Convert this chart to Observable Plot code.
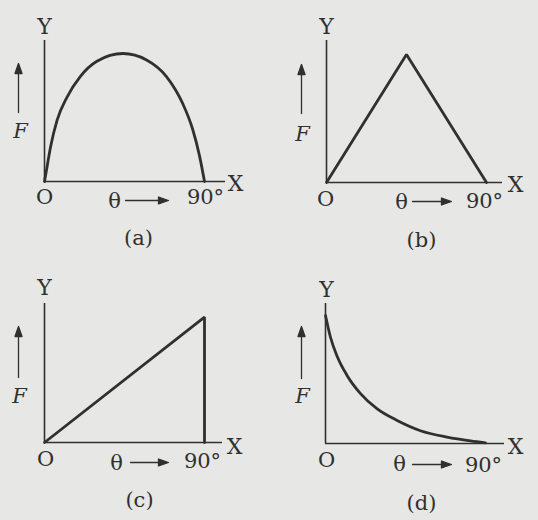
<!DOCTYPE html>
<html><head><meta charset="utf-8">
<script src="https://cdn.jsdelivr.net/npm/d3@7"></script>
<script src="https://cdn.jsdelivr.net/npm/@observablehq/plot@0.6"></script>
<style>
html,body{margin:0;padding:0;background:#e7e7e5;}
#grid{display:grid;grid-template-columns:269px 269px;grid-template-rows:260px 260px;width:538px;height:520px;}
#grid svg{display:block;}
</style></head><body><div id="grid"></div>
<script>
// Data: angle θ (degrees) vs relative force F
const thetaA = [0, 1.5, 3.4, 7.1, 12.7, 20.1, 29.5, 44.2, 57.4, 68.6, 77.7, 83.3, 87.2, 90];
const forceA = [0, 0.12, 0.27, 0.48, 0.66, 0.82, 0.94, 1.0, 0.95, 0.82, 0.61, 0.41, 0.20, 0];
const thetaB = [0, 45, 90];
const forceB = [0, 1.0, 0];
const thetaC = [0, 90, 90];
const forceC = [0, 0.98, 0];
const thetaD = [0, 2.8, 6.6, 12.2, 19.7, 29.1, 40.3, 53.4, 68.4, 81.6, 90];
const forceD = [1.0, 0.83, 0.68, 0.53, 0.39, 0.27, 0.18, 0.10, 0.05, 0.02, 0.005];
const panelLabels = ["(a)", "(b)", "(c)", "(d)"];
const yLabel = "Y", xLabel = "X", originLabel = "O", thetaLabel = "θ", endLabel = "90°", forceLabel = "F";

const ink = "#303030";
const font = "DejaVu Serif";

const layout = [
  {x0:44, base:181, yTopPx:40, xEndPx:225, Y:[44,26], X:[235,183], O:[44,197], th:[114,201], arr:[125,168,200], n90:[205,197], F:[20,131], farr:[18,112,63], lab:[138,238]},
  {x0:57, base:182, yTopPx:40, xEndPx:233, Y:[57,26], X:[246,184], O:[56,199], th:[132,202], arr:[143,182,201], n90:[215,201], F:[33,134], farr:[32,113,64], lab:[152,240]},
  {x0:44, base:182, yTopPx:43, xEndPx:222, Y:[44,27], X:[234,186], O:[45,199], th:[116,203], arr:[130,168,202], n90:[202,201], F:[19,136], farr:[18,117,66], lab:[139,240]},
  {x0:56, base:183, yTopPx:43, xEndPx:235, Y:[57,29], X:[246,186], O:[57,200], th:[130,204], arr:[143,182,204], n90:[214,205], F:[33,136], farr:[32,118,66], lab:[152,243]}
];
const series = [[thetaA, forceA, "monotone-x"], [thetaB, forceB, "linear"], [thetaC, forceC, "linear"], [thetaD, forceD, "monotone-x"]];

const arrowShape = {draw(ctx, l) {
  const h = 10, w = 3.5;
  ctx.moveTo(0, 0); ctx.lineTo(0, -l + h);
  ctx.moveTo(0, -l); ctx.lineTo(-w, -l + h); ctx.lineTo(w, -l + h); ctx.closePath();
}};

function draw(i) {
  const p = layout[i];
  const [th, fo, curve] = series[i];
  const kx = 90 / 160, ky = 1 / 128;
  const X = px => (px - p.x0) * kx, Y = py => (p.base - py) * ky;
  const pts = th.map((t, j) => ({t, f: fo[j]}));
  const txt = (s, [px, py], extra = {}) => Plot.text([s], {x: X(px), y: Y(py), text: d => d, fontFamily: font, fontSize: 21, fill: ink, ...extra});
  return Plot.plot({
    width: 269, height: 260, margin: 0,
    x: {domain: [0, 90], range: [p.x0, p.x0 + 160], axis: null},
    y: {domain: [0, 1], range: [p.base, p.base - 128], axis: null},
    style: {background: "transparent", overflow: "visible"},
    marks: [
      Plot.ruleX([0], {y1: 0, y2: Y(p.yTopPx), stroke: ink, strokeWidth: 1.6}),
      Plot.ruleY([0], {x1: 0, x2: X(p.xEndPx), stroke: ink, strokeWidth: 1.6}),
      Plot.line(pts, {x: "t", y: "f", curve, stroke: ink, strokeWidth: 2.8, strokeLinejoin: "miter"}),
      txt(yLabel, p.Y, {fontSize: 22}),
      txt(xLabel, p.X, {fontSize: 22}),
      txt(originLabel, p.O),
      txt(thetaLabel, p.th),
      txt(endLabel, p.n90),
      txt(forceLabel, p.F, {fontStyle: "italic"}),
      txt(panelLabels[i], p.lab),
      Plot.vector([0], {x: X(p.farr[0]), y: Y(p.farr[1]), length: p.farr[1] - p.farr[2], rotate: 0, anchor: "start", shape: arrowShape, stroke: ink, fill: ink, strokeWidth: 1.3}),
      Plot.vector([0], {x: X(p.arr[0]), y: Y(p.arr[2]), length: p.arr[1] - p.arr[0], rotate: 90, anchor: "start", shape: arrowShape, stroke: ink, fill: ink, strokeWidth: 1.3})
    ]
  });
}

const grid = document.getElementById("grid");
for (let i = 0; i < 4; i++) grid.appendChild(draw(i));
</script>
</body></html>
